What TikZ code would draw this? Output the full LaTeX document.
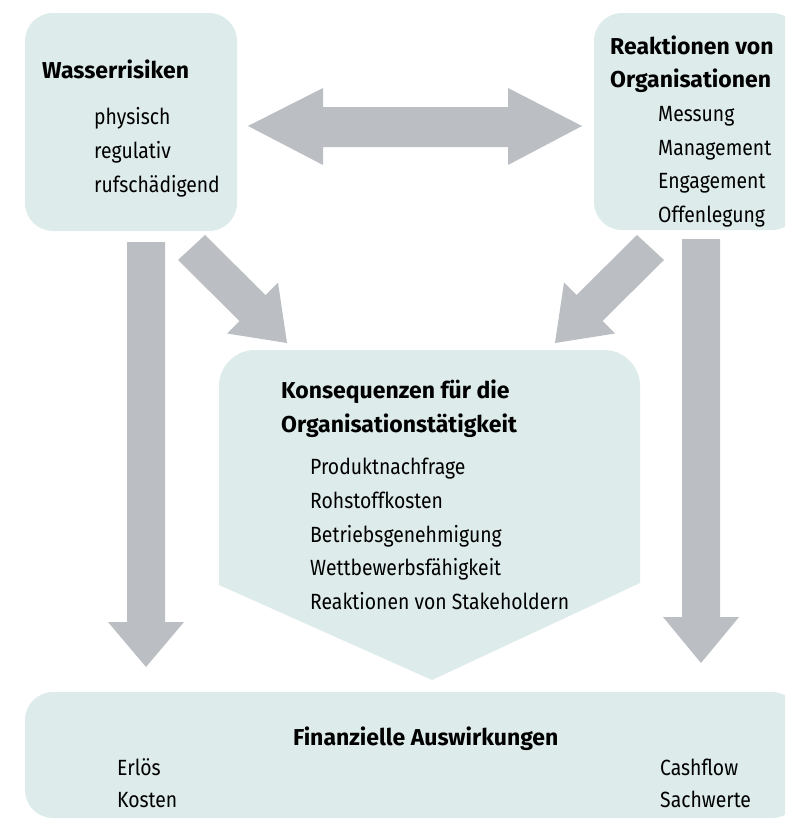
\documentclass[tikz,border=0pt]{standalone}
\usepackage{fontspec}
\setmainfont[FakeStretch=0.88]{Fira Sans}
\newfontfamily\ttlfont{Fira Sans}
\definecolor{boxfill}{RGB}{221,235,234}
\definecolor{arrowgrey}{RGB}{187,190,195}
\begin{document}
\begin{tikzpicture}[x=1pt,y=-1pt,
  boxshape/.style={fill=boxfill},
  blockarrow/.style={fill=arrowgrey},
  txt/.style={anchor=base west, inner sep=0pt, font=\fontsize{22}{26}\selectfont},
  ttl/.style={anchor=base west, inner sep=0pt, font=\ttlfont\fontsize{23}{27}\selectfont\bfseries}]
\useasboundingbox (0,0) rectangle (785,819);
\clip (0,0) rectangle (785,819);

% boxes
\fill[boxshape, rounded corners=28pt] (25,13) rectangle (237,231);
\fill[boxshape, rounded corners=28pt] (594,13) rectangle (800,230);
\fill[boxshape, rounded corners=28pt] (25,692) rectangle (800,818);
\fill[boxshape] (219,585) -- (219,386) arc[start angle=180, end angle=270, radius=36]
  -- (604,350) arc[start angle=270, end angle=360, radius=36]
  -- (640,583) -- (432,680) -- cycle;

% arrows
\coordinate (dl) at (248,126);
\coordinate (dr) at (582,126);
\fill[blockarrow] (dl) -- (323,88) -- (323,107) -- (508,107) -- (508,88) -- (dr)
  -- (508,165) -- (508,147) -- (323,147) -- (323,165) -- cycle;
\coordinate (vl) at (146,667);
\fill[blockarrow] (127,242) -- (165,242) -- (165,622) -- (184,622) -- (vl)
  -- (108,622) -- (127,622) -- cycle;
\coordinate (vr) at (701,663);
\fill[blockarrow] (682,239) -- (720,239) -- (720,617) -- (739,617) -- (vr)
  -- (663,617) -- (682,617) -- cycle;
\coordinate (gl) at (287,343);
\fill[blockarrow] (178,260) -- (205,235) -- (265.5,295) -- (278,282.5) -- (gl)
  -- (227,333.5) -- (239.5,321) -- cycle;
\coordinate (gr) at (555,343);
\fill[blockarrow] (664,260) -- (637,235) -- (576.5,295) -- (564,282.5) -- (gr)
  -- (615,333.5) -- (602.5,321) -- cycle;

% texts
\node[ttl] (w0) at (42,78) {Wasserrisiken};
\node[txt] (w1) at (94,124) {physisch};
\node[txt] (w2) at (94,158) {regulativ};
\node[txt] (w3) at (94,192) {rufschädigend};

\node[ttl] (r0) at (610,54) {Reaktionen von};
\node[ttl] (r1) at (610,87) {Organisationen};
\node[txt] (r2) at (658,121) {Messung};
\node[txt] (r3) at (658,155) {Management};
\node[txt] (r4) at (658,188) {Engagement};
\node[txt] (r5) at (658,222) {Offenlegung};

\node[ttl] (k0) at (281,398) {Konsequenzen für die};
\node[ttl] (k1) at (281,432) {Organisationstätigkeit};
\node[txt] (k2) at (310,474) {Produktnachfrage};
\node[txt] (k3) at (310,508) {Rohstoffkosten};
\node[txt] (k4) at (310,542) {Betriebsgenehmigung};
\node[txt] (k5) at (310,575) {Wettbewerbsfähigkeit};
\node[txt] (k6) at (310,609) {Reaktionen von Stakeholdern};

\node[ttl] (f0) at (293,745) {Finanzielle Auswirkungen};
\node[txt] (f1) at (117,775) {Erlös};
\node[txt] (f2) at (117,807) {Kosten};
\node[txt] (f3) at (660,775) {Cashflow};
\node[txt] (f4) at (660,807) {Sachwerte};
\end{tikzpicture}
\end{document}
